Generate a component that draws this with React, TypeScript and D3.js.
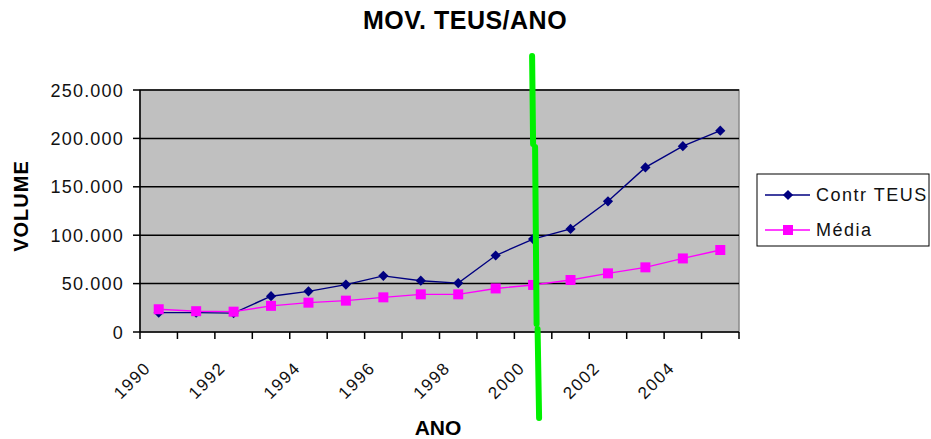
import React from "react";
import * as d3 from "d3";

const years = ["1990","1991","1992","1993","1994","1995","1996","1997","1998","1999","2000","2001","2002","2003","2004","2005"];
const contrTeus = [20000, 20000, 19500, 37000, 42000, 49000, 58000, 53000, 50500, 79000, 96000, 106500, 135000, 170000, 192000, 208000];
const media = [23500, 21500, 21000, 27000, 30300, 32400, 35800, 38900, 38900, 45000, 48600, 53700, 60600, 66800, 76000, 84700];
const yTicks = [0, 50000, 100000, 150000, 200000, 250000];
const xLabelYears = ["1990","1992","1994","1996","1998","2000","2002","2004"];
const markerYear = "2000";

const W = 931, H = 439;
const plot = { left: 140, right: 739, top: 90, bottom: 332 };

const ptBR = d3.formatLocale({ decimal: ",", thousands: ".", grouping: [3], currency: ["", ""] });
const fmt = ptBR.format(",");

export default function App() {
  const x = d3.scaleBand<string>().domain(years).range([plot.left, plot.right]).padding(0);
  const y = d3.scaleLinear().domain([0, 250000]).range([plot.bottom, plot.top]);
  const cx = (yr: string) => (x(yr) as number) + x.bandwidth() / 2;

  const line = d3.line<number>().x((_, i) => cx(years[i])).y((v) => y(v));
  const diamond = d3.symbol().type(d3.symbolDiamond2).size(66)();
  const square = d3.symbol().type(d3.symbolSquare).size(100)();

  const font = "'Liberation Sans', Arial, sans-serif";
  const boundaries = d3.range(years.length + 1).map((i) => plot.left + i * x.bandwidth());

  // hand-drawn highlight at the 2000 category, three short strokes
  const mx = cx(markerYear);
  const highlight = [
    [[mx - 1, 56], [mx, 144]],
    [[mx + 2, 147], [mx + 3.5, 324]],
    [[mx + 4.5, 329], [mx + 6, 418]],
  ];

  return (
    <svg width={W} height={H} style={{ position: "absolute", left: 0, top: 0, background: "#fff" }} fontFamily={font}>
      <text x={465} y={29} textAnchor="middle" fontSize={25} fontWeight="bold" letterSpacing={0.5}>MOV. TEUS/ANO</text>

      <rect x={plot.left} y={plot.top} width={plot.right - plot.left} height={plot.bottom - plot.top} fill="#C0C0C0" stroke="#8a8a8a" strokeWidth={1.5} />

      {yTicks.filter((t) => t > 0).map((t) => (
        <line key={t} x1={plot.left} x2={plot.right} y1={y(t)} y2={y(t)} stroke="#000" strokeWidth={1.5} />
      ))}

      {/* axes */}
      <line x1={plot.left} x2={plot.left} y1={plot.top} y2={plot.bottom} stroke="#000" strokeWidth={1.5} />
      <line x1={plot.left} x2={plot.right} y1={plot.bottom} y2={plot.bottom} stroke="#000" strokeWidth={1.5} />

      {yTicks.map((t) => (
        <g key={t}>
          <line x1={plot.left - 7} x2={plot.left} y1={y(t)} y2={y(t)} stroke="#000" strokeWidth={1.5} />
          <text x={124} y={y(t) + 6.5} textAnchor="end" fontSize={18} letterSpacing={1.2} fill="#111">{fmt(t)}</text>
        </g>
      ))}

      {boundaries.map((b, i) => (
        <line key={i} x1={b} x2={b} y1={plot.bottom} y2={plot.bottom + 7} stroke="#000" strokeWidth={1.5} />
      ))}

      {xLabelYears.map((yr) => (
        <text key={yr} transform={`translate(${cx(yr) - 7},${369}) rotate(-45)`} textAnchor="end" fontSize={17} letterSpacing={1.5} fill="#111">{yr}</text>
      ))}

      <text x={438} y={435} textAnchor="middle" fontSize={21} fontWeight="bold">ANO</text>
      <text transform={`translate(28,206) rotate(-90)`} textAnchor="middle" fontSize={20} fontWeight="bold" letterSpacing={1}>VOLUME</text>

      {/* series */}
      <path d={line(contrTeus) as string} fill="none" stroke="#000080" strokeWidth={1.4} />
      {contrTeus.map((v, i) => (
        <path key={i} d={diamond as string} transform={`translate(${cx(years[i])},${y(v)})`} fill="#000080" />
      ))}
      <path d={line(media) as string} fill="none" stroke="#FF00FF" strokeWidth={1.4} />
      {media.map((v, i) => (
        <path key={i} d={square as string} transform={`translate(${cx(years[i])},${y(v)})`} fill="#FF00FF" />
      ))}

      {/* legend */}
      <rect x={757} y={174} width={172} height={72} fill="#fff" stroke="#000" strokeWidth={1} />
      <line x1={765} x2={810} y1={195} y2={195} stroke="#000080" strokeWidth={1.4} />
      <path d={diamond as string} transform="translate(788,195)" fill="#000080" />
      <text x={816} y={201} fontSize={18} letterSpacing={1.5} fill="#111">Contr TEUS</text>
      <line x1={765} x2={810} y1={230} y2={230} stroke="#FF00FF" strokeWidth={1.4} />
      <path d={square as string} transform="translate(788,230)" fill="#FF00FF" />
      <text x={816} y={236} fontSize={18} letterSpacing={1.5} fill="#111">Média</text>

      {/* highlight */}
      {highlight.map((seg, i) => (
        <line key={i} x1={seg[0][0]} y1={seg[0][1]} x2={seg[1][0]} y2={seg[1][1]} stroke="#00F000" strokeWidth={6} strokeLinecap="round" />
      ))}
    </svg>
  );
}
